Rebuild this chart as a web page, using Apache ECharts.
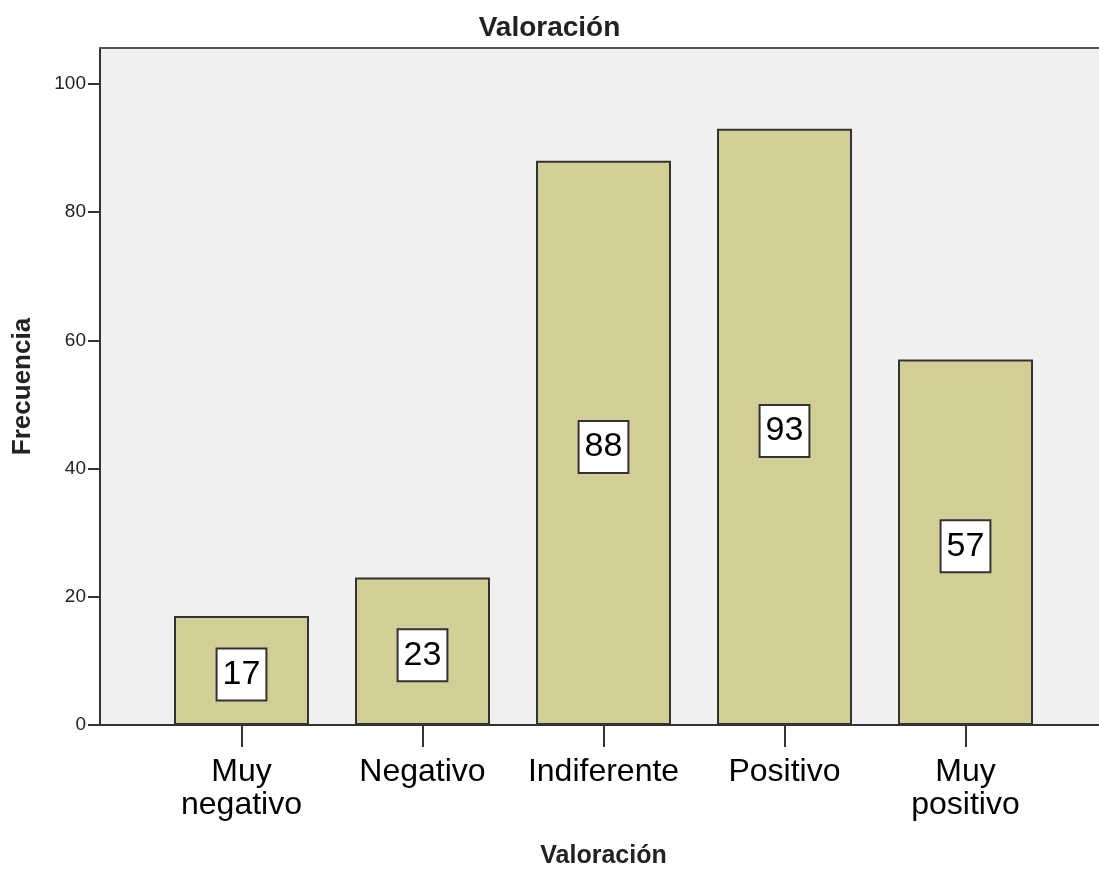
<!DOCTYPE html>
<html>
<head>
<meta charset="utf-8">
<script src="https://cdn.jsdelivr.net/npm/echarts@6/dist/echarts.min.js"></script>
<style>
  html, body { margin: 0; padding: 0; background: #fff; }
  #chart { width: 1099px; height: 870px; }
</style>
</head>
<body>
<div id="chart"></div>
<script>
// Valoración - frecuencias
var categories = ['Muy\nnegativo', 'Negativo', 'Indiferente', 'Positivo', 'Muy\npositivo'];
var counts = [17, 23, 88, 93, 57];
var yTicks = [0, 20, 40, 60, 80, 100];
var yMax = 105.6;

var font = 'Arial, "Liberation Sans", sans-serif';
var ink = '#222';

var chart = echarts.init(document.getElementById('chart'));

var option = {
  animation: false,
  title: {
    text: 'Valoración',
    left: 'center',
    top: 9,
    textStyle: { fontFamily: font, fontSize: 28, fontWeight: 'bold', color: ink }
  },
  grid: [
    // frame + y axis
    { left: 100, right: 0, top: 48, bottom: 145, show: true, backgroundColor: '#f0f0f0', borderWidth: 0, outerBoundsMode: 'none' },
    // bars
    { left: 151, right: 43, top: 48, bottom: 145, outerBoundsMode: 'none' }
  ],
  xAxis: [
    {
      gridIndex: 0, type: 'value', min: 0, max: 1, position: 'bottom',
      axisLine: { show: true, lineStyle: { color: '#333', width: 2 } },
      axisTick: { show: false }, axisLabel: { show: false }, splitLine: { show: false }
    },
    {
      gridIndex: 0, type: 'value', min: 0, max: 1, position: 'top',
      axisLine: { show: true, lineStyle: { color: '#555', width: 2 } },
      axisTick: { show: false }, axisLabel: { show: false }, splitLine: { show: false }
    },
    {
      gridIndex: 1, type: 'category', data: categories, boundaryGap: true,
      axisLine: { show: false },
      axisTick: { show: true, alignWithLabel: true, length: 22, lineStyle: { color: '#333', width: 2 } },
      axisLabel: { fontFamily: font, fontSize: 32, lineHeight: 33, color: '#000', margin: 31, interval: 0 },
      name: 'Valoración',
      nameLocation: 'middle',
      nameGap: 119,
      nameTextStyle: { fontFamily: font, fontSize: 25, fontWeight: 'bold', color: ink }
    }
  ],
  yAxis: [
    {
      gridIndex: 0, type: 'value', min: 0, max: yMax,
      axisLine: { show: true, lineStyle: { color: '#333', width: 2 } },
      axisTick: { show: true, length: 12, customValues: yTicks, lineStyle: { color: '#333', width: 2 } },
      axisLabel: { customValues: yTicks, fontFamily: font, fontSize: 19, color: ink, margin: 14 },
      splitLine: { show: false },
      name: 'Frecuencia',
      nameLocation: 'middle',
      nameGap: 64,
      nameTextStyle: { fontFamily: font, fontSize: 26, fontWeight: 'bold', color: ink }
    },
    {
      gridIndex: 1, type: 'value', min: 0, max: yMax, show: false
    }
  ],
  series: [{
    type: 'bar',
    xAxisIndex: 2,
    yAxisIndex: 1,
    data: counts,
    barWidth: 135,
    itemStyle: { color: '#d3cd96', borderColor: '#333', borderWidth: 2 },
    label: {
      show: true,
      position: 'inside',
      offset: [0, 4],
      fontFamily: font,
      fontSize: 34,
      lineHeight: 40,
      color: '#000',
      backgroundColor: '#fff',
      borderColor: '#333',
      borderWidth: 2,
      padding: [5, 5, 5, 5]
    }
  }]
};

chart.setOption(option);
</script>
</body>
</html>
